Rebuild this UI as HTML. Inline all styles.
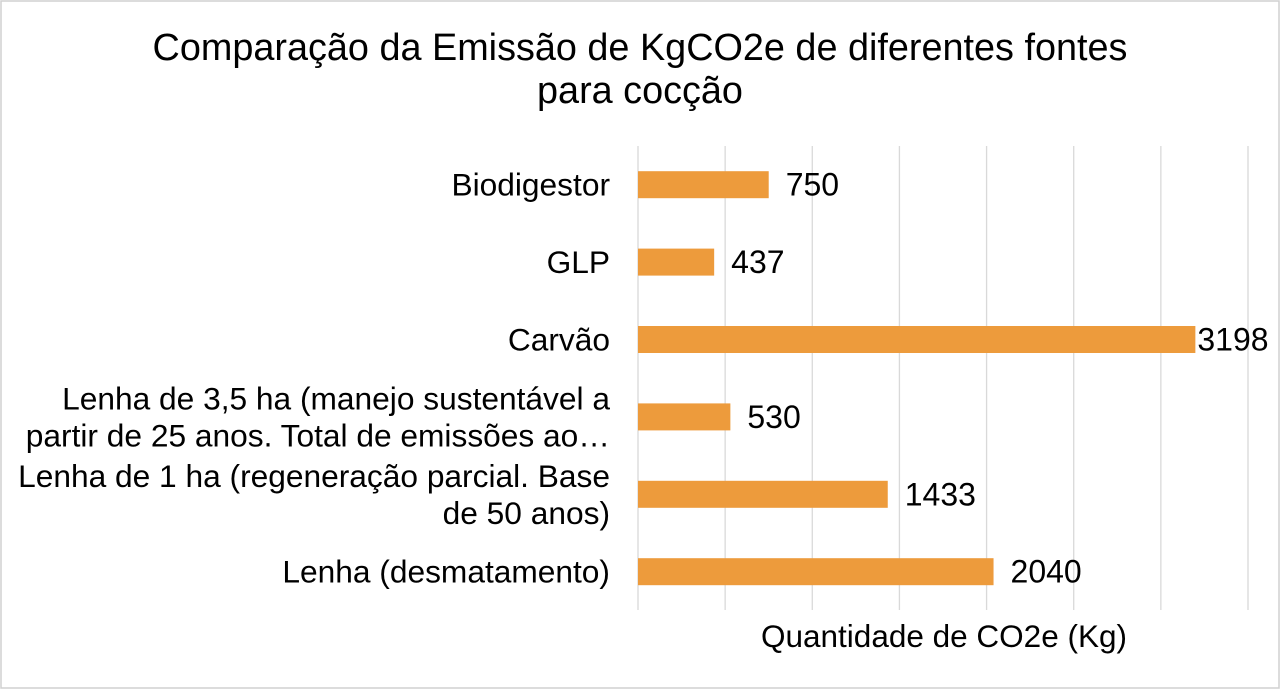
<!DOCTYPE html>
<html><head><meta charset="utf-8"><style>
body{margin:0;background:#fff;}
svg{display:block;font-family:"Liberation Sans",Arial,sans-serif;}
</style></head><body>
<svg id="chart" width="1280" height="689">
<rect x="1" y="1" width="1278" height="687" fill="#fff" stroke="#d0d0d0" stroke-width="1.5"/>
<text x="640" y="60" text-anchor="middle" font-size="37.8" fill="#000">Comparação da Emissão de KgCO2e de diferentes fontes</text>
<text x="640" y="103" text-anchor="middle" font-size="37.8" fill="#000">para cocção</text>
<g id="grid"></g>
<g id="bars"></g>
<text x="944" y="647" text-anchor="middle" font-size="31.5" fill="#000">Quantidade de CO2e (Kg)</text>
</svg>
<script>
const categories=[["Biodigestor"],["GLP"],["Carvão"],["Lenha de 3,5 ha (manejo sustentável a","partir de 25 anos. Total de emissões ao…"],["Lenha de 1 ha (regeneração parcial. Base","de 50 anos)"],["Lenha (desmatamento)"]];
const values=[750,437,3198,530,1433,2040];
const gridTicks=[0,500,1000,1500,2000,2500,3000,3500];
const x0=638,x1=1248,xmax=3500,top0=146,step=77.4,barH=27;
const xs=v=>x0+(x1-x0)*v/xmax;
const ys=i=>top0+step*(i+0.5);
const ns="http://www.w3.org/2000/svg";
const g=document.getElementById('grid'),b=document.getElementById('bars');
gridTicks.forEach(t=>{
 const l=document.createElementNS(ns,'line');
 l.setAttribute('x1',xs(t));l.setAttribute('x2',xs(t));l.setAttribute('y1',146);l.setAttribute('y2',610);
 l.setAttribute('stroke','#d9d9d9');l.setAttribute('stroke-width','1.3');
 
 
 g.appendChild(l);
});
values.forEach((v,i)=>{
 const y=ys(i);
 const r=document.createElementNS(ns,'rect');
 r.setAttribute('x',x0);r.setAttribute('y',y-barH/2);r.setAttribute('width',xs(v)-x0);r.setAttribute('height',barH);
 r.setAttribute('fill','#ed9b3c');
 
 
 b.appendChild(r);
 const t=document.createElementNS(ns,'text');
 t.setAttribute('x',xs(v)+(v>3000?2:17));t.setAttribute('y',y+11);t.setAttribute('font-size','32');
 t.textContent=v;
 
 
 b.appendChild(t);
 const lines=categories[i];
 lines.forEach((s,k)=>{
  const c=document.createElementNS(ns,'text');
  c.setAttribute('x',610);c.setAttribute('text-anchor','end');c.setAttribute('font-size','31.7');
  c.setAttribute('y',y+11+(k-(lines.length-1)/2)*37);
  c.textContent=s;
  
  
  b.appendChild(c);
 });
});
</script>
</body></html>
